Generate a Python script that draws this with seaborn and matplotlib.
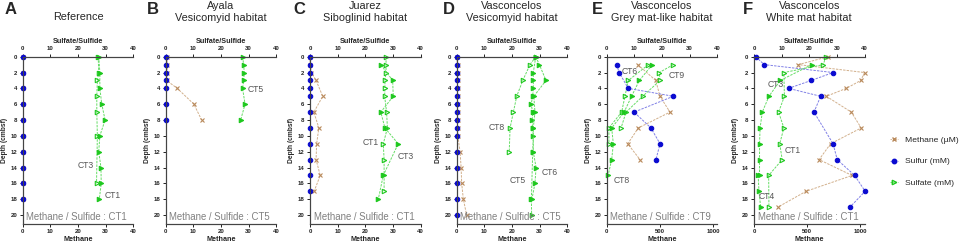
"""
Pore-water profiles: sulfate / sulfide (top axis) and methane (bottom axis) against depth
"""
import matplotlib.pyplot as plt
from matplotlib.lines import Line2D
import seaborn as sns

sns.set_style('ticks')
plt.rcParams['font.family'] = ['Liberation Sans', 'DejaVu Sans']

# ---- data (depth in cmbsf) ----
# A  Reference
a_depth = [0, 2, 4, 6, 8, 10, 12, 14, 16, 18]
a_sulfur = [0, 0, 0, 0, 0, 0, 0, 0, 0, 0]
a_methane = [0, 0, 0, 0, 0, 0, 0, 0, 0, 0]
a_ct1 = [27.5, 27.9, 27.9, 28.6, 29.8, 27.9, 27.5, 28.3, 28.4, 27.7]
a_ct3_depth = [0, 2, 3, 5, 7, 10, 16]
a_ct3 = [27.3, 27.5, 27.0, 26.8, 26.8, 27.0, 26.7]

# B  Ayala, vesicomyid habitat
b_depth = [0, 1, 2, 3, 4, 6, 8]
b_sulfur = [0, 0, 0, 0, 0, 0, 0]
b_methane = [0.5, 0.5, 0.5, 0.3, 4.2, 10.2, 13.0]
b_ct5 = [27.8, 28.2, 28.4, 28.2, 27.8, 28.7, 27.1]

# C  Juarez, siboglinid habitat
c_depth = [0, 1, 2, 3, 4, 5, 7, 9, 11, 13, 15, 17]
c_sulfur = [0, 0, 0, 0, 0, 0, 0, 0, 0, 0, 0, 0]
c_methane_depth = [0, 1, 2, 3, 5, 7, 9, 11, 13, 15, 17]
c_methane = [0, 0.1, 0.5, 2.2, 4.6, 1.4, 3.2, 2.4, 2.2, 3.7, 1.5]
c_ct1 = [27.5, 27.5, 27.5, 27.1, 27.1, 27.0, 27.7, 28.0, 26.5, 26.8, 26.8, 26.8]
c_ct3_depth = [1, 3, 5, 7, 9, 11, 15, 18]
c_ct3 = [25.6, 29.9, 30.1, 25.6, 27.1, 31.9, 26.5, 24.7]

# D  Vasconcelos, vesicomyid habitat
d_depth = [0, 1, 2, 3, 4, 5, 6, 7, 8, 9, 10, 12, 14, 16, 18, 20]
d_sulfur = [0, 0, 0, 0, 0, 0, 0, 0, 0, 0, 0, 0, 0, 0, 0, 0]
d_methane = [0, 0.3, 0.3, 0.3, 0.3, 0.3, 0.3, 0.3, 0.3, 0.3, 0.4, 1.2, 1.6, 1.8, 2.4, 3.6]
d_ct5_depth = [0, 2, 3, 4, 5, 6, 7, 8, 9, 10, 12, 18, 20]
d_ct5 = [28.6, 27.7, 27.7, 27.7, 27.5, 26.9, 27.5, 27.3, 27.5, 27.7, 27.5, 27.0, 27.1]
d_ct6_depth = [0, 1, 3, 5, 7, 9, 12, 14, 16, 18]
d_ct6 = [28.6, 29.9, 32.3, 27.9, 28.3, 27.7, 27.7, 28.7, 28.3, 27.2]
d_ct8_depth = [0, 1, 3, 5, 7, 9, 12]
d_ct8 = [28.6, 26.5, 23.9, 21.7, 20.5, 19.3, 19.0]

# E  Vasconcelos, grey mat-like habitat
e_sulfur_depth = [1, 2, 4, 5, 7, 9, 11, 13]
e_sulfur = [3.6, 4.5, 7.8, 24.1, 9.9, 16.0, 19.3, 17.8]
e_methane_depth = [1, 3, 5, 7, 9, 11, 13]
e_methane = [292, 461, 501, 595, 297, 198, 313]
e_ct9_depth = [1, 2, 3, 5, 7, 9]
e_ct9 = [24.1, 19.0, 19.3, 13.0, 7.0, 5.2]
e_ct6_depth = [1, 3, 5, 7, 9, 11]
e_ct6 = [15.1, 7.8, 6.6, 5.4, 0.8, 0.8]
e_ct8_depth = [1, 3, 5, 7, 9, 11, 13, 15]
e_ct8 = [16.5, 11.8, 9.0, 6.3, 1.8, 2.4, 1.8, 0.5]

# F  Vasconcelos, white mat habitat
f_sulfur_depth = [0, 1, 2, 3, 4, 5, 7, 11, 13, 15, 17, 19]
f_sulfur = [0.6, 3.7, 28.6, 20.7, 12.5, 24.1, 21.7, 28.6, 30.1, 36.4, 40.2, 34.7]
f_methane_depth = [0, 1, 2, 3, 4, 5, 7, 9, 11, 13, 15, 17, 19]
f_methane = [696, 418, 1040, 1004, 868, 680, 915, 1008, 720, 612, 922, 490, 225]
f_ct1_depth = [0, 1, 2, 5, 7, 9, 11, 13, 15, 19]
f_ct1 = [25.9, 25.1, 10.8, 11.0, 8.9, 10.8, 9.3, 10.2, 5.3, 5.4]
f_ct3_depth = [1, 3, 5, 7, 9, 11, 13, 15]
f_ct3 = [20.9, 9.5, 5.4, 3.0, 2.2, 2.0, 2.0, 2.0]
f_ct4_depth = [15, 17, 19]
f_ct4 = [1.5, 1.8, 2.4]

METH_C, METH_L = '#b98a5c', '#d2b08c'
SULF_C, SULF_L = '#0a0ad0', '#8080e6'
SO4_C, SO4_L = '#1ec81e', '#66dd66'
GREY = '#555555'

W, H = 964, 246
fig = plt.figure(figsize=(W / 100, H / 100), dpi=100)


def series(axis, xs, ys, colour, line_colour, marker, filled=True, size=3.2):
    sns.lineplot(x=xs, y=ys, ax=axis, sort=False, estimator=None,
                 color=line_colour, linestyle=(0, (2.5, 1.2)), linewidth=0.7,
                 marker=marker, markersize=size,
                 markerfacecolor=colour if filled else 'none',
                 markeredgecolor=colour, markeredgewidth=0.8,
                 clip_on=False, legend=False)


def panel(left, letter, letter_x, title):
    ax = fig.add_axes([left / W, 1 - 223.5 / H, 110.6 / W, (223.5 - 56.7) / H])
    top = ax.twiny()
    for a in (ax, top):
        a.spines['right'].set_visible(False)
        for s in ('left', 'top', 'bottom'):
            a.spines[s].set_linewidth(0.8)
            a.spines[s].set_color('#444444')
    fig.text(letter_x / W, 1 - 10 / H, letter, fontsize=12, fontweight='bold',
             ha='left', va='center')
    fig.text((left + 55.3) / W, 1 - (17 if '\n' not in title else 12) / H, title,
             fontsize=7.8, ha='center', va='center', linespacing=1.15)
    return ax, top


def finish(ax, top, meth_max, meth_ticks, note):
    ax.set_xlim(0, meth_max)
    ax.set_xticks(meth_ticks)
    top.set_xlim(0, 40)
    top.set_xticks([0, 10, 20, 30, 40])
    ax.set_ylim(21.07, 0)
    ax.set_yticks(range(0, 21, 2))
    for a in (ax, top):
        a.tick_params(labelsize=4.3, length=2.5, width=0.7, pad=1.5, colors='#222222')
        for lab in a.get_xticklabels() + a.get_yticklabels():
            lab.set_fontweight('bold')
    ax.set_xlabel('Methane', fontsize=5.2, fontweight='bold', labelpad=1.5)
    top.set_xlabel('Sulfate/Sulfide', fontsize=5.2, fontweight='bold', labelpad=2.5)
    ax.set_ylabel('Depth (cmbsf)', fontsize=4.8, fontweight='bold', labelpad=2)
    top.text(1.3, 20.3, note, fontsize=6.9, color='#808080', ha='left', va='center')


def label(axis, x, y, text, ha='left'):
    axis.text(x, y, text, fontsize=6.2, color=GREY, ha=ha, va='center')


# A
ax, top = panel(22.7, 'A', 5, 'Reference')
series(ax, a_methane, a_depth, METH_C, METH_L, 'x')
series(top, a_sulfur, a_depth, SULF_C, SULF_L, 'o')
series(top, a_ct3, a_ct3_depth, SO4_C, SO4_L, '>', filled=False)
series(top, a_ct1, a_depth, SO4_C, SO4_L, '>')
label(top, 25.8, 13.7, 'CT3', ha='right')
label(top, 29.8, 17.5, 'CT1')
finish(ax, top, 40, [0, 10, 20, 30, 40], 'Methane / Sulfide : CT1')

# B
ax, top = panel(165.7, 'B', 147, 'Ayala\nVesicomyid habitat')
series(ax, b_methane, b_depth, METH_C, METH_L, 'x')
series(top, b_sulfur, b_depth, SULF_C, SULF_L, 'o')
series(top, b_ct5, b_depth, SO4_C, SO4_L, '>')
label(top, 29.5, 4.2, 'CT5')
finish(ax, top, 40, [0, 10, 20, 30, 40], 'Methane / Sulfide : CT5')

# C
ax, top = panel(310, 'C', 293, 'Juarez\nSiboglinid habitat')
series(ax, c_methane, c_methane_depth, METH_C, METH_L, 'x')
series(top, c_sulfur, c_depth, SULF_C, SULF_L, 'o')
series(top, c_ct1, c_depth, SO4_C, SO4_L, '>', filled=False)
series(top, c_ct3, c_ct3_depth, SO4_C, SO4_L, '>')
label(top, 24.7, 10.9, 'CT1', ha='right')
label(top, 31.6, 12.6, 'CT3')
finish(ax, top, 40, [0, 10, 20, 30, 40], 'Methane / Sulfide : CT1')

# D
ax, top = panel(456.7, 'D', 443, 'Vasconcelos\nVesicomyid habitat')
series(ax, d_methane, d_depth, METH_C, METH_L, 'x')
series(top, d_sulfur, d_depth, SULF_C, SULF_L, 'o')
series(top, d_ct8, d_ct8_depth, SO4_C, SO4_L, '>', filled=False)
series(top, d_ct5, d_ct5_depth, SO4_C, SO4_L, '>')
series(top, d_ct6, d_ct6_depth, SO4_C, SO4_L, '>')
label(top, 17.5, 9.0, 'CT8', ha='right')
label(top, 30.7, 14.6, 'CT6')
label(top, 25.0, 15.6, 'CT5', ha='right')
finish(ax, top, 40, [0, 10, 20, 30, 40], 'Methane / Sulfide : CT5')

# E
ax, top = panel(606.7, 'E', 592, 'Vasconcelos\nGrey mat-like habitat')
series(ax, e_methane, e_methane_depth, METH_C, METH_L, 'x')
series(top, e_ct9, e_ct9_depth, SO4_C, SO4_L, '>', filled=False)
series(top, e_ct6, e_ct6_depth, SO4_C, SO4_L, '>', filled=False)
series(top, e_ct8, e_ct8_depth, SO4_C, SO4_L, '>')
series(top, e_sulfur, e_sulfur_depth, SULF_C, SULF_L, 'o')
label(top, 5.4, 1.9, 'CT6')
label(top, 22.3, 2.4, 'CT9')
label(top, 2.6, 15.6, 'CT8')
finish(ax, top, 1040, [0, 500, 1000], 'Methane / Sulfide : CT9')

# F
ax, top = panel(754, 'F', 743, 'Vasconcelos\nWhite mat habitat')
series(ax, f_methane, f_methane_depth, METH_C, METH_L, 'x')
series(top, f_ct1, f_ct1_depth, SO4_C, SO4_L, '>', filled=False)
series(top, f_ct3, f_ct3_depth, SO4_C, SO4_L, '>')
series(top, f_ct4, f_ct4_depth, SO4_C, SO4_L, '>')
series(top, f_sulfur, f_sulfur_depth, SULF_C, SULF_L, 'o')
label(top, 5.1, 3.45, 'CT3')
label(top, 11.0, 11.8, 'CT1')
label(top, 1.5, 17.6, 'CT4')
finish(ax, top, 1040, [0, 500, 1000], 'Methane / Sulfide : CT1')

# legend
handles = [
    Line2D([], [], color=METH_L, linestyle=(0, (2, 1)), linewidth=0.6, marker='x',
           markersize=3.2, markeredgecolor=METH_C, label='Methane (µM)'),
    Line2D([], [], color=SULF_L, linestyle=(0, (2, 1)), linewidth=0.6, marker='o',
           markersize=3.2, markeredgecolor=SULF_C, markerfacecolor=SULF_C, label='Sulfur (mM)'),
    Line2D([], [], color=SO4_L, linestyle=(0, (2, 1)), linewidth=0.6, marker='>',
           markersize=3.2, markeredgecolor=SO4_C, markerfacecolor='none', label='Sulfate (mM)'),
]
fig.legend(handles=handles, loc='center left', bbox_to_anchor=(886 / W, 1 - 161.5 / H),
           frameon=False, fontsize=6.1, labelspacing=1.65, handlelength=0.9,
           handletextpad=0.9, borderpad=0)

fig.savefig('out.png', dpi=100)
